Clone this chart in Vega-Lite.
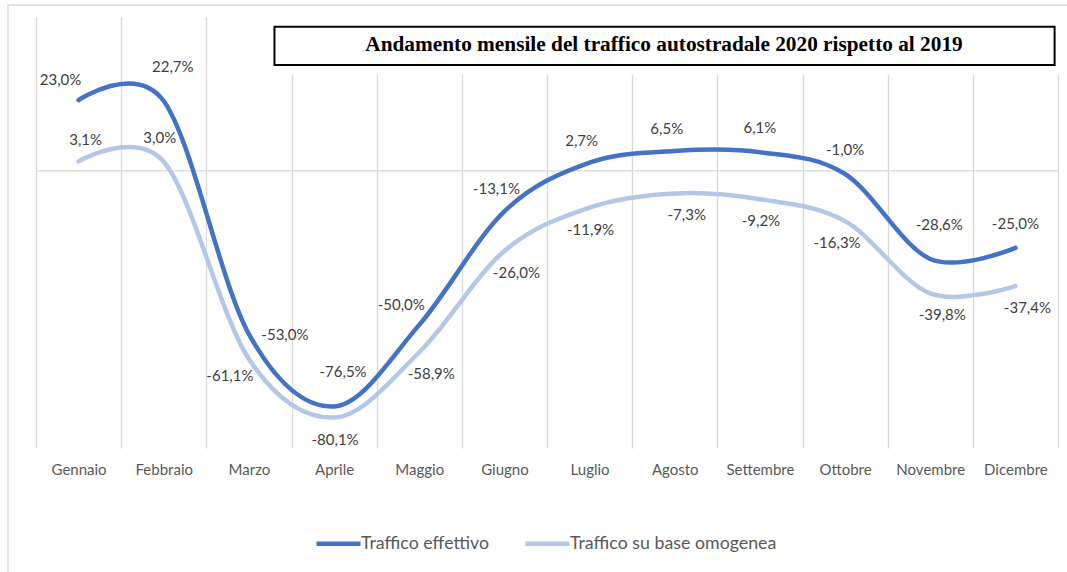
{
  "$schema": "https://vega.github.io/schema/vega-lite/v6.json",
  "width": 1022,
  "height": 431,
  "autosize": {"type": "none"},
  "padding": {"left": 36, "top": 17, "right": 9, "bottom": 124},
  "background": "white",
  "config": {
    "view": {"stroke": null},
    "locale": {"number": {"decimal": ",", "thousands": ".", "grouping": [3], "currency": ["", " €"], "minus": "-", "percent": "%"}}
  },
  "title": {
    "text": "Andamento mensile del traffico autostradale 2020 rispetto al 2019",
    "font": "Liberation Serif",
    "fontSize": 21.3,
    "fontWeight": "bold",
    "color": "#000000",
    "anchor": "middle",
    "frame": "group",
    "dx": 117,
    "dy": 12,
    "offset": -56,
    "baseline": "alphabetic"
  },
  "resolve": {"scale": {"x": "independent"}},
  "data": {
    "values": [
      {"mese": "Gennaio", "serie": "Traffico effettivo", "valore": 0.230},
      {"mese": "Febbraio", "serie": "Traffico effettivo", "valore": 0.227},
      {"mese": "Marzo", "serie": "Traffico effettivo", "valore": -0.530},
      {"mese": "Aprile", "serie": "Traffico effettivo", "valore": -0.765},
      {"mese": "Maggio", "serie": "Traffico effettivo", "valore": -0.500},
      {"mese": "Giugno", "serie": "Traffico effettivo", "valore": -0.131},
      {"mese": "Luglio", "serie": "Traffico effettivo", "valore": 0.027},
      {"mese": "Agosto", "serie": "Traffico effettivo", "valore": 0.065},
      {"mese": "Settembre", "serie": "Traffico effettivo", "valore": 0.061},
      {"mese": "Ottobre", "serie": "Traffico effettivo", "valore": -0.010},
      {"mese": "Novembre", "serie": "Traffico effettivo", "valore": -0.286},
      {"mese": "Dicembre", "serie": "Traffico effettivo", "valore": -0.250},
      {"mese": "Gennaio", "serie": "Traffico su base omogenea", "valore": 0.031},
      {"mese": "Febbraio", "serie": "Traffico su base omogenea", "valore": 0.030},
      {"mese": "Marzo", "serie": "Traffico su base omogenea", "valore": -0.611},
      {"mese": "Aprile", "serie": "Traffico su base omogenea", "valore": -0.801},
      {"mese": "Maggio", "serie": "Traffico su base omogenea", "valore": -0.589},
      {"mese": "Giugno", "serie": "Traffico su base omogenea", "valore": -0.260},
      {"mese": "Luglio", "serie": "Traffico su base omogenea", "valore": -0.119},
      {"mese": "Agosto", "serie": "Traffico su base omogenea", "valore": -0.073},
      {"mese": "Settembre", "serie": "Traffico su base omogenea", "valore": -0.092},
      {"mese": "Ottobre", "serie": "Traffico su base omogenea", "valore": -0.163},
      {"mese": "Novembre", "serie": "Traffico su base omogenea", "valore": -0.398},
      {"mese": "Dicembre", "serie": "Traffico su base omogenea", "valore": -0.374}
    ]
  },
  "layer": [
    {
      "data": {"values": [{"x0": 2.75, "x1": 12.03, "y0": 0.503, "y1": 0.3116, "b0": 2.8, "b1": 11.96, "c0": 0.4685, "c1": 0.3441, "o0": -0.329, "o1": 12.3, "p0": 0.539, "p1": -1.4}]},
      "layer": [
        {
          "mark": {"type": "rect", "fill": null, "stroke": "#d9d9d9", "strokeWidth": 1.3},
          "encoding": {
            "x": {"field": "o0", "type": "quantitative", "scale": {"domain": [0, 12]}, "axis": null},
            "x2": {"field": "o1"},
            "y": {"field": "p0", "type": "quantitative", "scale": {"domain": [-0.9, 0.5]}, "axis": null},
            "y2": {"field": "p1"}
          }
        },
        {
          "mark": {"type": "rect", "fill": "white"},
          "encoding": {
            "x": {"field": "x0", "type": "quantitative", "scale": {"domain": [0, 12]}, "axis": null},
            "x2": {"field": "x1"},
            "y": {"field": "y0", "type": "quantitative", "scale": {"domain": [-0.9, 0.5]}, "axis": null},
            "y2": {"field": "y1"}
          }
        },
        {
          "mark": {"type": "rect", "fill": "white", "stroke": "#000000", "strokeWidth": 2},
          "encoding": {
            "x": {"field": "b0", "type": "quantitative", "scale": {"domain": [0, 12]}, "axis": null},
            "x2": {"field": "b1"},
            "y": {"field": "c0", "type": "quantitative", "scale": {"domain": [-0.9, 0.5]}, "axis": null},
            "y2": {"field": "c1"}
          }
        }
      ]
    },
    {
      "layer": [
        {
          "data": {"values": [{"zero": 0}]},
          "mark": {"type": "rule", "color": "#d9d9d9", "strokeWidth": 1.3},
          "encoding": {"y": {"field": "zero", "type": "quantitative", "scale": {"domain": [-0.9, 0.5]}, "axis": null}}
        },
        {
          "mark": {"type": "line", "interpolate": "cardinal", "tension": 0, "strokeWidth": 4.5, "strokeCap": "round"},
          "encoding": {
            "x": {
              "field": "mese", "type": "nominal",
              "scale": {"domain": ["Gennaio", "Febbraio", "Marzo", "Aprile", "Maggio", "Giugno", "Luglio", "Agosto", "Settembre", "Ottobre", "Novembre", "Dicembre"], "paddingInner": 0, "paddingOuter": 0},
              "axis": {"title": null, "grid": true, "gridColor": "#d9d9d9", "gridWidth": 1.3, "tickBand": "extent", "domain": false, "ticks": false, "tickSize": 0, "labelPadding": 14, "labelFont": "Lato", "labelFontSize": 15, "labelColor": "#595959", "labelAngle": 0}
            },
            "y": {"field": "valore", "type": "quantitative", "scale": {"domain": [-0.9, 0.5]}, "axis": null},
            "color": {
              "field": "serie", "type": "nominal",
              "scale": {"domain": ["Traffico effettivo", "Traffico su base omogenea"], "range": ["#4472C4", "#B4C7E7"]},
              "legend": {"orient": "none", "legendX": 278, "legendY": 502, "direction": "horizontal", "title": null, "symbolType": "stroke", "symbolSize": 1936, "symbolStrokeWidth": 4.5, "labelFont": "Lato", "labelFontSize": 17.8, "labelColor": "#595959", "labelOffset": -2, "columnPadding": 26, "labelLimit": 400}
            }
          }
        },
        {
          "transform": [{"filter": {"field": "serie", "equal": "Traffico effettivo"}}, {"filter": {"field": "mese", "oneOf": ["Gennaio", "Maggio"]}}],
          "mark": {"type": "text", "dx": -18, "dy": -20, "font": "Lato", "fontSize": 15, "color": "#404040"},
          "encoding": {"x": {"field": "mese", "type": "nominal"}, "y": {"field": "valore", "type": "quantitative"}, "text": {"field": "valore", "type": "quantitative", "format": ".1%"}}
        },
        {
          "transform": [{"filter": {"field": "serie", "equal": "Traffico effettivo"}}, {"filter": {"field": "mese", "oneOf": ["Febbraio", "Aprile", "Novembre"]}}],
          "mark": {"type": "text", "dx": 9, "dy": -34, "font": "Lato", "fontSize": 15, "color": "#404040"},
          "encoding": {"x": {"field": "mese", "type": "nominal"}, "y": {"field": "valore", "type": "quantitative"}, "text": {"field": "valore", "type": "quantitative", "format": ".1%"}}
        },
        {
          "transform": [{"filter": {"field": "serie", "equal": "Traffico effettivo"}}, {"filter": {"field": "mese", "oneOf": ["Marzo"]}}],
          "mark": {"type": "text", "dx": 36, "dy": 1, "font": "Lato", "fontSize": 15, "color": "#404040"},
          "encoding": {"x": {"field": "mese", "type": "nominal"}, "y": {"field": "valore", "type": "quantitative"}, "text": {"field": "valore", "type": "quantitative", "format": ".1%"}}
        },
        {
          "transform": [{"filter": {"field": "serie", "equal": "Traffico effettivo"}}, {"filter": {"field": "mese", "oneOf": ["Giugno", "Luglio", "Agosto"]}}],
          "mark": {"type": "text", "dx": -8, "dy": -22, "font": "Lato", "fontSize": 15, "color": "#404040"},
          "encoding": {"x": {"field": "mese", "type": "nominal"}, "y": {"field": "valore", "type": "quantitative"}, "text": {"field": "valore", "type": "quantitative", "format": ".1%"}}
        },
        {
          "transform": [{"filter": {"field": "serie", "equal": "Traffico effettivo"}}, {"filter": {"field": "mese", "oneOf": ["Settembre", "Ottobre", "Dicembre"]}}],
          "mark": {"type": "text", "dx": 0, "dy": -24, "font": "Lato", "fontSize": 15, "color": "#404040"},
          "encoding": {"x": {"field": "mese", "type": "nominal"}, "y": {"field": "valore", "type": "quantitative"}, "text": {"field": "valore", "type": "quantitative", "format": ".1%"}}
        },
        {
          "transform": [{"filter": {"field": "serie", "equal": "Traffico su base omogenea"}}, {"filter": {"field": "mese", "oneOf": ["Gennaio"]}}],
          "mark": {"type": "text", "dx": 7, "dy": -21, "font": "Lato", "fontSize": 15, "color": "#404040"},
          "encoding": {"x": {"field": "mese", "type": "nominal"}, "y": {"field": "valore", "type": "quantitative"}, "text": {"field": "valore", "type": "quantitative", "format": ".1%"}}
        },
        {
          "transform": [{"filter": {"field": "serie", "equal": "Traffico su base omogenea"}}, {"filter": {"field": "mese", "oneOf": ["Febbraio"]}}],
          "mark": {"type": "text", "dx": -4, "dy": -24, "font": "Lato", "fontSize": 15, "color": "#404040"},
          "encoding": {"x": {"field": "mese", "type": "nominal"}, "y": {"field": "valore", "type": "quantitative"}, "text": {"field": "valore", "type": "quantitative", "format": ".1%"}}
        },
        {
          "transform": [{"filter": {"field": "serie", "equal": "Traffico su base omogenea"}}, {"filter": {"field": "mese", "oneOf": ["Marzo"]}}],
          "mark": {"type": "text", "dx": -19, "dy": 17, "font": "Lato", "fontSize": 15, "color": "#404040"},
          "encoding": {"x": {"field": "mese", "type": "nominal"}, "y": {"field": "valore", "type": "quantitative"}, "text": {"field": "valore", "type": "quantitative", "format": ".1%"}}
        },
        {
          "transform": [{"filter": {"field": "serie", "equal": "Traffico su base omogenea"}}, {"filter": {"field": "mese", "oneOf": ["Aprile", "Luglio", "Settembre"]}}],
          "mark": {"type": "text", "dx": 1, "dy": 22, "font": "Lato", "fontSize": 15, "color": "#404040"},
          "encoding": {"x": {"field": "mese", "type": "nominal"}, "y": {"field": "valore", "type": "quantitative"}, "text": {"field": "valore", "type": "quantitative", "format": ".1%"}}
        },
        {
          "transform": [{"filter": {"field": "serie", "equal": "Traffico su base omogenea"}}, {"filter": {"field": "mese", "oneOf": ["Maggio", "Giugno", "Agosto", "Novembre", "Dicembre"]}}],
          "mark": {"type": "text", "dx": 12, "dy": 22, "font": "Lato", "fontSize": 15, "color": "#404040"},
          "encoding": {"x": {"field": "mese", "type": "nominal"}, "y": {"field": "valore", "type": "quantitative"}, "text": {"field": "valore", "type": "quantitative", "format": ".1%"}}
        },
        {
          "transform": [{"filter": {"field": "serie", "equal": "Traffico su base omogenea"}}, {"filter": {"field": "mese", "oneOf": ["Ottobre"]}}],
          "mark": {"type": "text", "dx": -8, "dy": 22, "font": "Lato", "fontSize": 15, "color": "#404040"},
          "encoding": {"x": {"field": "mese", "type": "nominal"}, "y": {"field": "valore", "type": "quantitative"}, "text": {"field": "valore", "type": "quantitative", "format": ".1%"}}
        }
      ]
    }
  ]
}
